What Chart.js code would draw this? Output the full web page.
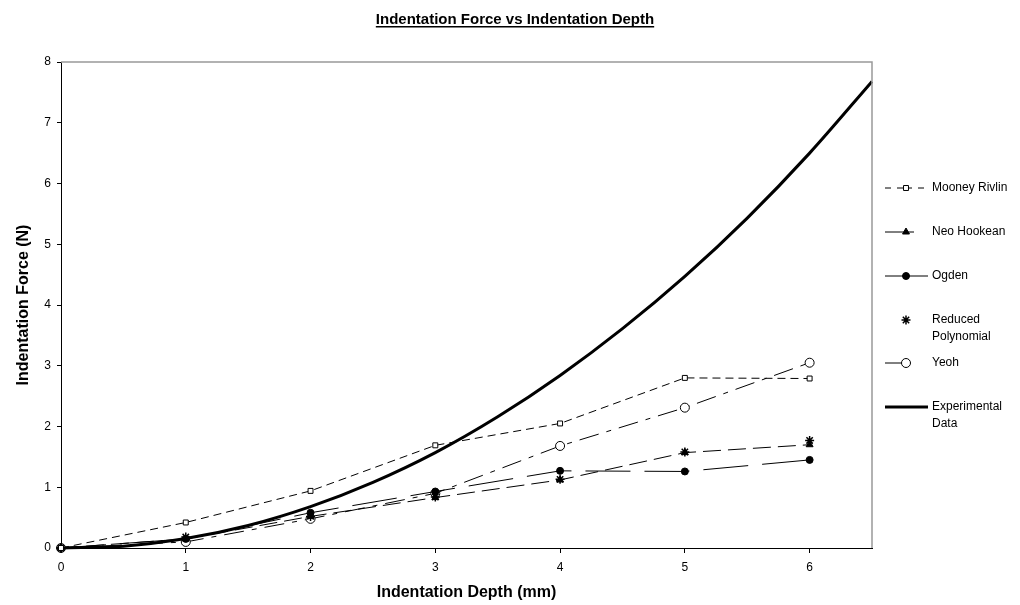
<!DOCTYPE html>
<html>
<head>
<meta charset="utf-8">
<script src="https://cdn.jsdelivr.net/npm/chart.js@4"></script>
<style>
  html, body { margin: 0; padding: 0; background: #fff; }
  #wrap { width: 1020px; height: 605px; }
</style>
</head>
<body>
<div id="wrap"><canvas id="chart" width="1020" height="605"></canvas></div>
<script>
const depths = [0, 1, 2, 3, 4, 5, 6];
const mooneyRivlin = [0, 0.42, 0.94, 1.69, 2.05, 2.80, 2.79];
const neoHookean = [0, 0.15, 0.52, 0.83, 1.12, 1.57, 1.70];
const ogden = [0, 0.15, 0.58, 0.93, 1.27, 1.26, 1.45];
const reducedPoly = [0, 0.18, 0.52, 0.84, 1.13, 1.58, 1.77];
const yeoh = [0, 0.10, 0.48, 0.90, 1.68, 2.31, 3.05];

const expDepths = [0, 0.5, 1, 1.5, 2, 2.5, 3, 3.5, 4, 4.5, 5, 5.5, 6, 6.5];
const expForce = [0, 0.03, 0.155, 0.37, 0.68, 1.08, 1.57, 2.16, 2.84, 3.61, 4.47, 5.43, 6.5, 7.68];

const xTicks = [0, 1, 2, 3, 4, 5, 6];
const yTicks = [0, 1, 2, 3, 4, 5, 6, 7, 8];

const pts = (xs, ys) => xs.map((x, i) => ({ x: x, y: ys[i] }));
const FONT = '"Liberation Sans", Arial, sans-serif';

const datasets = [
  { label: 'Mooney Rivlin', data: pts(depths, mooneyRivlin), borderDash: [8, 5],
    pointStyle: 'rect', pointRadius: 3.5, pointBackgroundColor: '#fff' },
  { label: 'Neo Hookean', data: pts(depths, neoHookean), borderDash: [18, 7],
    pointStyle: 'triangle', pointRadius: 4, pointBackgroundColor: '#000' },
  { label: 'Ogden', data: pts(depths, ogden), borderDash: [45, 14],
    pointStyle: 'circle', pointRadius: 3.5, pointBackgroundColor: '#000' },
  { label: ['Reduced', 'Polynomial'], data: pts(depths, reducedPoly), showLine: false,
    pointStyle: 'star', pointRadius: 4.5, pointBackgroundColor: '#000', pointBorderWidth: 1.5 },
  { label: 'Yeoh', data: pts(depths, yeoh), borderDash: [20, 8, 5, 8],
    pointStyle: 'circle', pointRadius: 4.5, pointBackgroundColor: '#fff' },
  { label: ['Experimental', 'Data'], data: pts(expDepths, expForce), borderWidth: 3,
    pointRadius: 0, cubicInterpolationMode: 'monotone' }
];
datasets.forEach(d => {
  d.borderColor = '#000';
  d.pointBorderColor = '#000';
  d.clip = false;
  if (d.borderWidth === undefined) d.borderWidth = 1;
  if (d.pointBorderWidth === undefined) d.pointBorderWidth = 1;
});

// legend sample dashes (left part, right part) as Excel draws them
const legendLeft = [[6, 6], [], [], null, [], []];
const legendRight = [[6, 6], [8, 20], [], null, [4, 20], []];

// title with underline, plot frame and the side legend
const decor = {
  id: 'decor',
  afterDraw(chart) {
    const ctx = chart.ctx;
    const a = chart.chartArea;
    ctx.save();
    // grey frame on top and right
    ctx.strokeStyle = '#999';
    ctx.lineWidth = 1.5;
    ctx.beginPath();
    ctx.moveTo(a.left, a.top);
    ctx.lineTo(a.right, a.top);
    ctx.lineTo(a.right, a.bottom);
    ctx.stroke();

    // title
    const title = 'Indentation Force vs Indentation Depth';
    ctx.font = 'bold 15px ' + FONT;
    ctx.fillStyle = '#000';
    ctx.textAlign = 'center';
    ctx.textBaseline = 'alphabetic';
    const tx = 515, ty = 24;
    ctx.fillText(title, tx, ty);
    const w = ctx.measureText(title).width;
    ctx.fillRect(tx - w / 2, ty + 2, w, 1.5);

    // legend
    const rows = [188, 232, 276, 320, 363, 407];
    const x0 = 885, x1 = 928, xm = 906;
    ctx.font = '12px ' + FONT;
    ctx.textAlign = 'left';
    ctx.textBaseline = 'middle';
    chart.data.datasets.forEach((d, i) => {
      const y = rows[i];
      if (d.showLine !== false) {
        ctx.strokeStyle = '#000';
        ctx.lineWidth = d.borderWidth;
        ctx.setLineDash(legendLeft[i]);
        ctx.beginPath();
        ctx.moveTo(x0, y);
        ctx.lineTo(xm, y);
        ctx.stroke();
        ctx.setLineDash(legendRight[i]);
        ctx.beginPath();
        ctx.moveTo(xm, y);
        ctx.lineTo(x1, y);
        ctx.stroke();
        ctx.setLineDash([]);
      }
      if (d.pointRadius > 0) {
        ctx.fillStyle = d.pointBackgroundColor;
        ctx.strokeStyle = '#000';
        ctx.lineWidth = d.pointBorderWidth;
        Chart.helpers.drawPoint(ctx, {
          pointStyle: d.pointStyle, radius: d.pointRadius, borderWidth: d.pointBorderWidth, rotation: 0
        }, xm, y);
      }
      ctx.fillStyle = '#000';
      const lines = Array.isArray(d.label) ? d.label : [d.label];
      lines.forEach((t, k) => ctx.fillText(t, x1 + 4, y + k * 17));
    });
    ctx.restore();
  }
};

new Chart(document.getElementById('chart'), {
  type: 'line',
  data: { datasets: datasets },
  plugins: [decor],
  options: {
    responsive: false,
    animation: false,
    layout: { padding: { left: 10, right: 148, top: 62, bottom: 0 } },
    plugins: { legend: { display: false }, title: { display: false }, tooltip: { enabled: false } },
    scales: {
      x: {
        type: 'linear', min: 0, max: 6.5,
        afterBuildTicks: s => { s.ticks = xTicks.map(v => ({ value: v })); },
        afterFit: s => { s.height = 57; },
        border: { color: '#000', width: 1 },
        grid: { drawOnChartArea: false, drawTicks: true, tickLength: 5, color: '#000' },
        ticks: { color: '#000', font: { family: FONT, size: 12 }, padding: 7, maxRotation: 0 },
        title: { display: true, text: 'Indentation Depth (mm)', color: '#000',
                 font: { family: FONT, size: 16, weight: 'bold' }, padding: { top: 4, bottom: 3 } }
      },
      y: {
        type: 'linear', min: 0, max: 8,
        afterBuildTicks: s => { s.ticks = yTicks.map(v => ({ value: v })); },
        afterFit: s => { s.width = 51; },
        border: { color: '#000', width: 1 },
        grid: { drawOnChartArea: false, drawTicks: true, tickLength: 4, color: '#000' },
        ticks: { color: '#000', font: { family: FONT, size: 12 }, padding: 6 },
        title: { display: true, text: 'Indentation Force (N)', color: '#000',
                 font: { family: FONT, size: 16, weight: 'bold' }, padding: { top: 4, bottom: 4 } }
      }
    }
  }
});
</script>
</body>
</html>
